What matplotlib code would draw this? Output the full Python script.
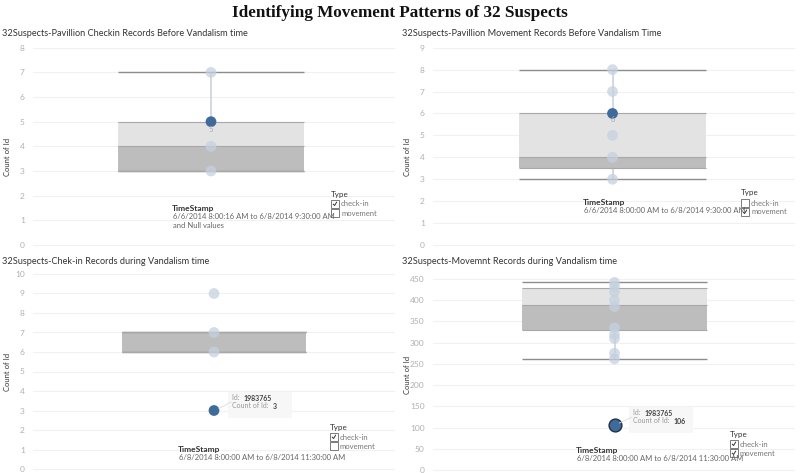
import matplotlib
matplotlib.use("Agg")
import matplotlib.pyplot as plt
from matplotlib.patches import Rectangle

W, H = 800, 473

# ---- data ----
titles = [
    "32Suspects-Pavillion Checkin Records Before Vandalism time",
    "32Suspects-Pavillion Movement Records Before Vandalism Time",
    "32Suspects-Chek-in Records during Vandalism time",
    "32Suspects-Movemnt Records during Vandalism time",
]
counts_checkin_before = [7, 5, 4, 3]
counts_move_before = [8, 7, 6, 5, 4, 3]
counts_checkin_during = [9, 7, 6, 3]
counts_move_during = [442, 432, 420, 400, 385, 335, 320, 310, 275, 262, 106]
highlight = [5, 6, 3, 106]
# whisker low, q1, median, q3, whisker high
box_stats = [
    (3, 3, 4, 5, 7),
    (3, 3.5, 4, 6, 8),
    (6, 6, 7, 7, 7),
    (261, 330, 388, 428, 442),
]
yticks = [list(range(0, 9)), list(range(0, 10)), list(range(0, 11)), list(range(0, 451, 50))]
time_ranges = [
    "6/6/2014 8:00:16 AM to 6/8/2014 9:30:00 AM\nand Null values",
    "6/6/2014 8:00:00 AM to 6/8/2014 9:30:00 AM",
    "6/8/2014 8:00:00 AM to 6/8/2014 11:30:00 AM",
    "6/8/2014 8:00:00 AM to 6/8/2014 11:30:00 AM",
]
checked = [(True, False), (False, True), (True, False), (True, True)]
tooltip_ids = [None, None, "1983765", "1983765"]

# ---- layout (pixels) ----
layout = [
    dict(ax_x=(33, 395), box_x=(118, 304), t0=(0, 245), t1=(8, 47.7), ylim_pad=0.3),
    dict(ax_x=(433, 795), box_x=(519, 706), t0=(0, 245), t1=(9, 47.7), ylim_pad=0.3),
    dict(ax_x=(33, 395), box_x=(122, 306), t0=(0, 469), t1=(10, 274), ylim_pad=0.3),
    dict(ax_x=(433, 795), box_x=(522, 707), t0=(0, 470), t1=(450, 279), ylim_pad=12),
]
title_pos = [(2, 33), (402, 33), (2, 261), (402, 261)]
ylabel_pos = [(7, 157), (407, 157), (7, 372), (407, 375)]
legend_pos = [(331, 194), (741, 193), (330, 427), (730, 434)]
stamp_pos = [(172, 208), (583, 202), (178, 449), (576, 450)]
tooltip_pos = [None, None, (228, 392), (629, 407)]
value_label_y = [129, 119, None, None]
show_stem = [True, True, False, True]

all_counts = [counts_checkin_before, counts_move_before, counts_checkin_during, counts_move_during]

C_DARK = "#3f6b9c"
C_LIGHT = "#c5d1df"
C_BOX_LIGHT = "#e3e3e3"
C_BOX_DARK = "#bdbdbd"
C_WHISK = "#8c8c8c"
C_TICK = "#b0b0b0"
FONT = "Lato"

fig = plt.figure(figsize=(W / 100, H / 100), dpi=100)
fig.patch.set_facecolor("white")


def fx(x):
    return x / W


def fy(y):
    return 1 - y / H


fig.text(0.5, fy(13), "Identifying Movement Patterns of 32 Suspects",
         family="Liberation Serif", fontweight="bold", fontsize=12.3,
         ha="center", va="center", color="#111111")

for i in range(4):
    L = layout[i]
    (v0, p0), (v1, p1) = L["t0"], L["t1"]
    ppu = (p0 - p1) / (v1 - v0)
    pad = L["ylim_pad"]
    lo, hi = v0 - pad, v1 + pad
    bottom_px = p0 + pad * ppu
    top_px = p1 - pad * ppu
    x0, x1 = L["ax_x"]
    ax = fig.add_axes([fx(x0), fy(bottom_px), fx(x1) - fx(x0), (bottom_px - top_px) / H])
    bx0, bx1 = L["box_x"]
    half = 0.5
    scale = (bx1 - bx0) / (2 * half)
    cx = (bx0 + bx1) / 2
    ax.set_xlim((x0 - cx) / scale, (x1 - cx) / scale)
    ax.set_ylim(lo, hi)
    for s in ax.spines.values():
        s.set_visible(False)
    ax.set_xticks([])
    ax.set_yticks(yticks[i])
    ax.tick_params(axis="y", length=0, labelsize=6, labelcolor=C_TICK, pad=6)
    for lab in ax.get_yticklabels():
        lab.set_family(FONT)
    ax.grid(axis="y", color="#f1f1f1", linewidth=0.8)
    ax.set_axisbelow(True)

    wl, q1, med, q3, wh = box_stats[i]
    counts = all_counts[i]
    hv = highlight[i]
    others = [c for c in counts if c != hv]
    if show_stem[i]:
        ax.vlines(0, wl, wh, color="#cdd3da", linewidth=1.2, zorder=1)
    ax.bar(0, med - q1, bottom=q1, width=2 * half, color=C_BOX_DARK, zorder=2)
    ax.bar(0, q3 - med, bottom=med, width=2 * half, color=C_BOX_LIGHT, zorder=2)
    ax.hlines([wl, wh], -half, half, color=C_WHISK, linewidth=1.0, zorder=3)
    ax.hlines([q1, med, q3], -half, half, color="#a8a8a8", linewidth=0.8, zorder=3)
    ax.scatter([0] * len(others), others, s=60, color=C_LIGHT, alpha=0.75,
               edgecolors="none", zorder=4)
    if i == 3:
        ax.scatter([0], [hv], s=85, color=C_DARK, edgecolors="#1f2f44", linewidths=1.0, zorder=5)
    else:
        ax.scatter([0], [hv], s=60, color=C_DARK, edgecolors="none", zorder=5)

    tx, ty = title_pos[i]
    fig.text(fx(tx), fy(ty), titles[i], family=FONT, fontsize=6.6, color="#333333",
             ha="left", va="center")
    lx, ly = ylabel_pos[i]
    fig.text(fx(lx), fy(ly), "Count of Id", family=FONT, fontsize=5.5, color="#333333",
             rotation=90, ha="center", va="center")

    if value_label_y[i] is not None:
        fig.text(fx(cx), fy(value_label_y[i]), str(hv), family=FONT, fontsize=5.5,
                 color="#aaaaaa", ha="center", va="center")

    # legend
    gx, gy = legend_pos[i]
    fig.text(fx(gx), fy(gy), "Type", family=FONT, fontsize=5.8, color="#333333",
             ha="left", va="center")
    for k, name in enumerate(["check-in", "movement"]):
        yy = gy + 10 + 9 * k
        fig.patches.append(Rectangle((fx(gx), fy(yy + 4)), 8 / W, 8 / H,
                                     transform=fig.transFigure, facecolor="white",
                                     edgecolor="#666666", linewidth=0.6))
        if checked[i][k]:
            fig.add_artist(plt.Line2D([fx(gx + 2.3), fx(gx + 3.6), fx(gx + 5.6)],
                                      [fy(yy + 0.2), fy(yy + 1.5), fy(yy - 1.8)],
                                      transform=fig.transFigure, color="#333333",
                                      linewidth=0.7))
        fig.text(fx(gx + 10), fy(yy), name, family=FONT, fontsize=5.5, color="#777777",
                 ha="left", va="center")

    # TimeStamp filter caption
    sx, sy = stamp_pos[i]
    fig.text(fx(sx), fy(sy), "TimeStamp", family=FONT, fontsize=6, fontweight="bold",
             color="#333333", ha="left", va="center")
    fig.text(fx(sx + 1), fy(sy + 5), time_ranges[i], family=FONT, fontsize=5.5,
             color="#666666", ha="left", va="top", linespacing=1.3)

    # tooltip
    if tooltip_pos[i] is not None:
        ttx, tty = tooltip_pos[i]
        fig.patches.append(Rectangle((fx(ttx), fy(tty + 26)), 64 / W, 26 / H,
                                     transform=fig.transFigure, facecolor="#f7f7f7",
                                     edgecolor="none", zorder=0))
        pt_y = p0 - (hv - v0) * ppu
        fig.add_artist(plt.Line2D([fx(cx + 5), fx(ttx + 3)], [fy(pt_y - 2), fy(tty + 10)],
                                  transform=fig.transFigure, color="#dddddd", linewidth=0.6))
        for row, (label, val) in enumerate([("Id: ", tooltip_ids[i]),
                                            ("Count of Id: ", str(hv))]):
            t1 = fig.text(fx(ttx + 4), fy(tty + 8 + 8 * row), label, family=FONT,
                          fontsize=5, color="#999999", ha="left", va="baseline")
            fig.add_artist(plt.Annotation(val, xy=(1, 0), xycoords=t1, xytext=(1.5, 0),
                                          textcoords="offset points", family=FONT,
                                          fontsize=5, fontweight="bold", color="#444444",
                                          ha="left", va="baseline"))

fig.savefig("out.png", dpi=100)
